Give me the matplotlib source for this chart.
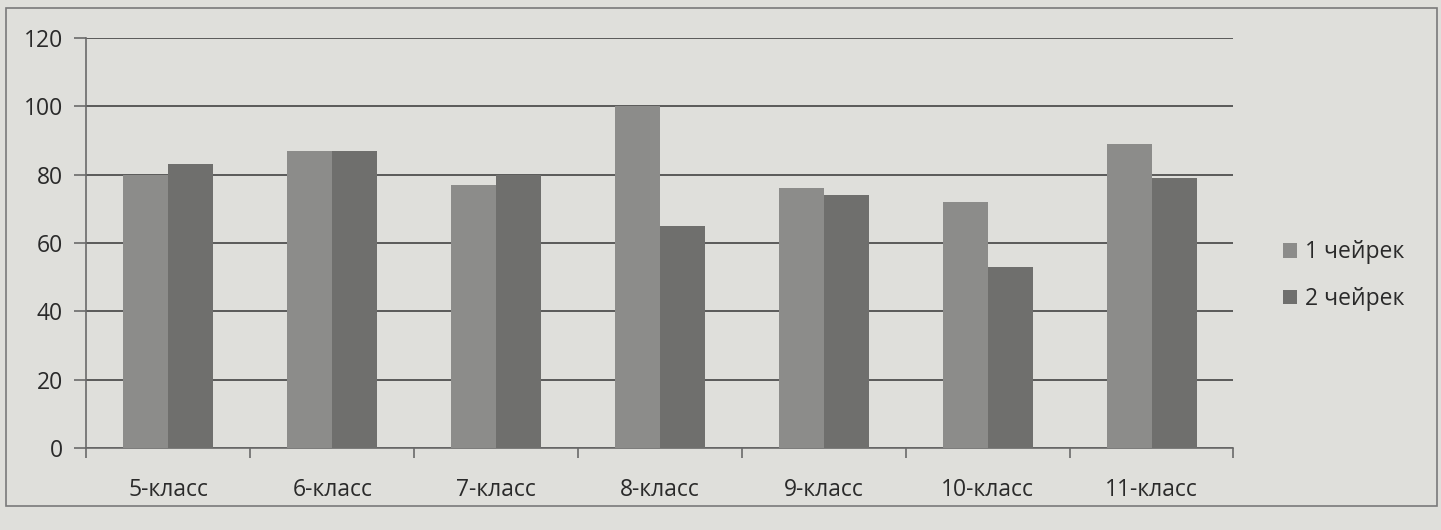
import numpy as np
import matplotlib.pyplot as plt
from matplotlib.patches import Rectangle

# data
classes = ['5-класс', '6-класс', '7-класс', '8-класс', '9-класс', '10-класс', '11-класс']
q1 = [80, 87, 77, 100, 76, 72, 89]
q2 = [83, 87, 80, 65, 74, 53, 79]
series_names = ['1 чейрек', '2 чейрек']

plt.rcParams['font.family'] = ['Open Sans', 'DejaVu Sans']

bg = '#dfdfdb'
fig = plt.figure(figsize=(14.41, 5.30), dpi=100, facecolor=bg)
ax = fig.add_axes([0.060, 0.155, 0.796, 0.773], facecolor=bg)

# outer chart frame
fig.patches.append(Rectangle((0.004, 0.045), 0.993, 0.94, transform=fig.transFigure,
                             fill=False, edgecolor='#7a7a7a', linewidth=1.2))

x = np.arange(len(classes))
w = 0.275
ax.bar(x - w / 2, q1, w, color='#8c8c8a', label=series_names[0], zorder=3)
ax.bar(x + w / 2, q2, w, color='#6f6f6d', label=series_names[1], zorder=3)

ax.set_ylim(0, 120)
ax.set_yticks(range(0, 121, 20))
ax.set_xlim(-0.5, len(classes) - 0.5)
ax.set_xticks(x)
ax.set_xticklabels(classes)
ax.set_xticks(np.arange(-0.5, len(classes), 1), minor=True)
ax.tick_params(axis='x', which='major', length=0, pad=22, labelsize=16.5, colors='#2a2a2a')
ax.tick_params(axis='x', which='minor', length=7, width=1.2, color='#6a6a6a')
ax.tick_params(axis='y', length=9, width=1.2, color='#6a6a6a', labelsize=16.5,
               labelcolor='#2a2a2a', pad=8)

ax.grid(axis='y', color='#4f4f4f', linewidth=1.3, zorder=0)
for side in ['top', 'right']:
    ax.spines[side].set_visible(False)
ax.spines['left'].set_color('#6a6a6a')
ax.spines['bottom'].set_color('#6a6a6a')
ax.spines['left'].set_linewidth(1.2)
ax.spines['bottom'].set_linewidth(1.2)

ax.legend(loc='center left', bbox_to_anchor=(1.025, 0.42), frameon=False,
          fontsize=16.5, handlelength=0.6, handleheight=0.6, handletextpad=0.35,
          labelspacing=1.0, labelcolor='#2a2a2a')

fig.savefig('out.png', dpi=100, facecolor=bg)
